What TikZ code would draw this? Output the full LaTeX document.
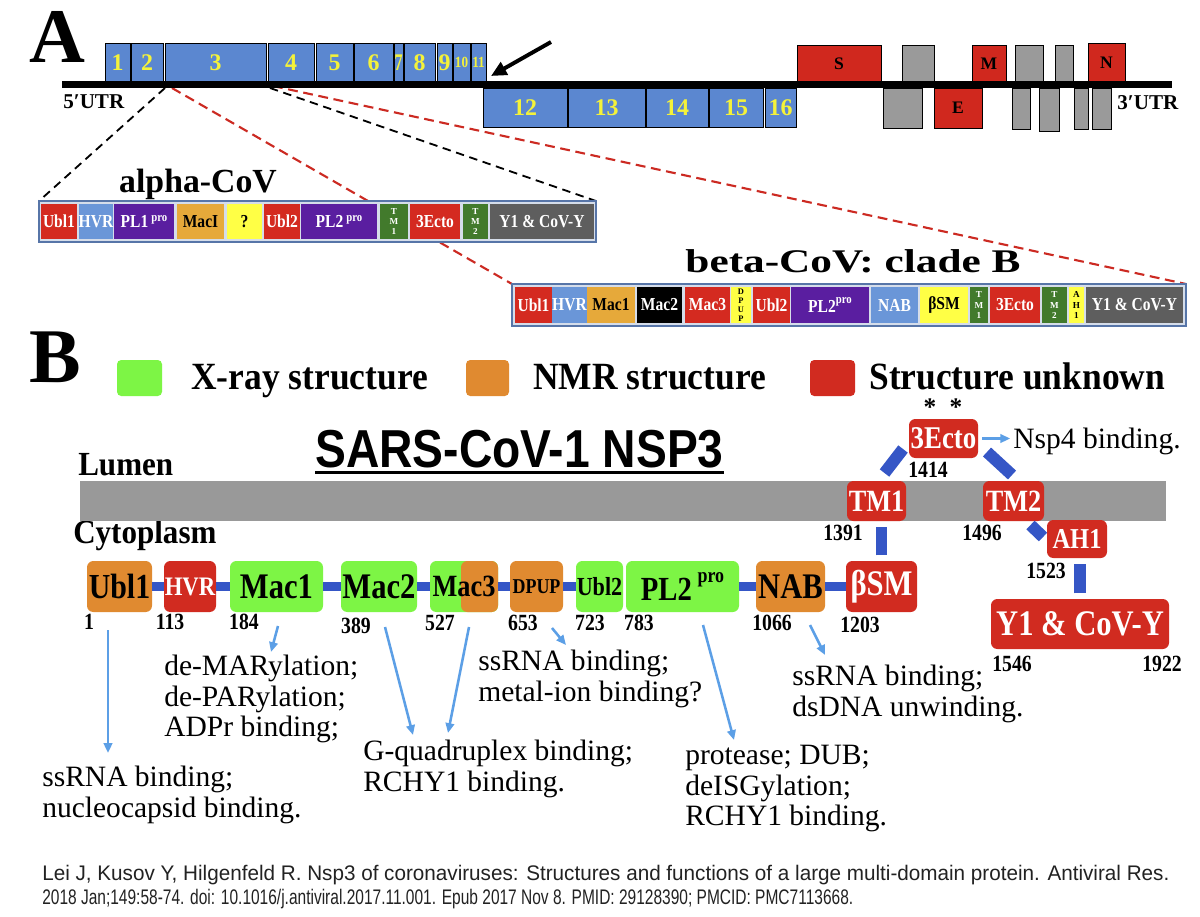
\documentclass[tikz,border=0pt]{standalone}
\usepackage{fontspec}
\setmainfont{Liberation Serif}
\newfontfamily\cnd[FakeStretch=0.85]{Liberation Serif}
\newfontfamily\cnn[FakeStretch=0.92]{Liberation Serif}
\newfontfamily\ssf{Liberation Sans}
\usetikzlibrary{arrows.meta}
\newcommand{\fsz}[1]{\fontsize{#1}{#1}\selectfont}
\newcommand{\bx}[7]{\node[#6, minimum width={(#4-#2)*0.025cm}, minimum height={(#5-#3)*0.025cm}] (#1) at ({(#2+#4)/2},{(#3+#5)/2}) {#7};}
\newcommand{\prosup}[2]{\raisebox{#2}{\fontsize{#1}{#1}\selectfont pro}}
\definecolor{nspblue}{HTML}{5B87D0}
\definecolor{nspyel}{HTML}{F4F23A}
\definecolor{orfred}{HTML}{D0281E}
\definecolor{orfgrey}{HTML}{9A9A9A}
\definecolor{cRed}{HTML}{D42A20}
\definecolor{cHvr}{HTML}{6A96D8}
\definecolor{cPur}{HTML}{5A1EA0}
\definecolor{cGold}{HTML}{E6A93A}
\definecolor{cYel}{HTML}{FFFF45}
\definecolor{cGrn}{HTML}{427A2C}
\definecolor{cDg}{HTML}{5E5E5E}
\definecolor{boxedge}{HTML}{5775A8}
\definecolor{boxfill}{HTML}{D5DDEA}
\definecolor{cLG}{HTML}{7DF545}
\definecolor{cOr}{HTML}{E08A30}
\definecolor{cRd}{HTML}{D12B20}
\definecolor{cConn}{HTML}{3556C6}
\definecolor{cArr}{HTML}{5C9FE6}
\definecolor{cBand}{HTML}{999999}
\definecolor{dRed}{HTML}{CC2A22}
\definecolor{citc}{HTML}{222222}
\pgfdeclarelayer{back}
\pgfdeclarelayer{bg}
\pgfsetlayers{back,bg,main}
\begin{document}
\begin{tikzpicture}[x=0.025cm,y=-0.025cm,
  sNsp/.style={draw=black,line width=0.6pt,fill=nspblue,text=nspyel,inner sep=0pt,outer sep=0pt,font=\bfseries\fsz{17}},
  sOrfR/.style={draw=black,line width=0.6pt,fill=orfred,text=black,inner sep=0pt,outer sep=0pt,font=\bfseries\fsz{12.5}},
  sOrfG/.style={draw=black,line width=0.6pt,fill=orfgrey,inner sep=0pt,outer sep=0pt},
  sOuter/.style={draw=boxedge,line width=1.4pt,fill=boxfill,inner sep=0pt,outer sep=0pt},
  sSeg/.style={draw=none,inner sep=0pt,outer sep=0pt,text=white,font=\cnd\bfseries\fsz{13}},
  sStk/.style={align=center,font=\bfseries\fontsize{6.5}{7.4}\selectfont},
  sStkS/.style={align=center,font=\bfseries\fontsize{6}{6.3}\selectfont},
  kDash/.style={draw=black,line width=1.3pt,dash pattern=on 6pt off 4pt},
  rDash/.style={draw=dRed,line width=1.5pt,dash pattern=on 7pt off 4pt},
  sLgsq/.style={rounded corners=3pt,draw=none,inner sep=0pt,outer sep=0pt},
  sLeg/.style={anchor=base west,inner sep=0pt,font=\cnn\bfseries\fsz{27.4}},
  sDom/.style={rounded corners=4.5pt,draw=none,inner sep=0pt,outer sep=0pt,text=black},
  sNum/.style={inner sep=0pt,font=\cnd\bfseries\fsz{16.5}},
  sConn/.style={draw=cConn,line width=6.5pt},
  sArr/.style={draw=cArr,line width=1.8pt,-{Triangle[length=7pt,width=6pt]}},
  sBody/.style={anchor=north west,align=left,inner sep=0pt,font=\fontsize{21}{21.7}\selectfont},
]
\begin{pgfonlayer}{back}
\fill[white] (0,0) rectangle (1200,916);
\end{pgfonlayer}
\useasboundingbox (0,0) rectangle (1200,916);

% ---------------- Part A ----------------
\node[anchor=base west,inner sep=0pt,font=\bfseries\fsz{55}] (lA) at (29,62) {A};

\bx{n1}{105}{43}{130}{82}{sNsp}{1}
\bx{n2}{131}{43}{163}{82}{sNsp}{2}
\bx{n3}{165}{43}{266}{82}{sNsp}{3}
\bx{n4}{268}{43}{314}{82}{sNsp}{4}
\bx{n5}{316}{43}{353}{82}{sNsp}{5}
\bx{n6}{354}{43}{393}{82}{sNsp}{6}
\bx{n7}{394}{43}{403}{82}{sNsp}{\scalebox{0.7}[1]{7}}
\bx{n8}{404}{43}{435}{82}{sNsp}{8}
\bx{n9}{437}{43}{452}{82}{sNsp}{9}
\bx{n10}{453}{43}{470}{82}{sNsp,font=\cnd\bfseries\fsz{11}}{10}
\bx{n11}{471}{43}{486}{82}{sNsp,font=\cnd\bfseries\fsz{11}}{11}
\bx{n12}{483}{88}{567}{127}{sNsp}{12}
\bx{n13}{568}{88}{645}{127}{sNsp}{13}
\bx{n14}{646}{88}{708}{127}{sNsp}{14}
\bx{n15}{709}{88}{763}{127}{sNsp}{15}
\bx{n16}{765}{88}{796}{127}{sNsp}{16}

\bx{sS}{797}{45}{881}{82}{sOrfR}{S}
\bx{g1}{902}{45}{934}{82}{sOrfG}{}
\bx{sM}{972}{45}{1006}{82}{sOrfR}{M}
\bx{g2}{1015}{45}{1043}{82}{sOrfG}{}
\bx{g3}{1055}{45}{1073}{82}{sOrfG}{}
\bx{sN}{1088}{43}{1125}{82}{sOrfR}{N}
\bx{g4}{883}{88}{922}{128}{sOrfG}{}
\bx{sE}{934}{88}{982}{128}{sOrfR}{E}
\bx{g5}{1012}{88}{1030}{129}{sOrfG}{}
\bx{g6}{1039}{88}{1059}{131}{sOrfG}{}
\bx{g7}{1074}{88}{1088}{129}{sOrfG}{}
\bx{g8}{1092}{88}{1111}{129}{sOrfG}{}

\coordinate (gL) at (62,84.5);
\coordinate (gR) at (1172,84.5);
\draw[line width=5pt] (gL) -- (gR);

\node[anchor=base west,inner sep=0pt,font=\bfseries\fsz{15}] (utr5) at (63,108) {5′UTR};
\node[anchor=base west,inner sep=0pt,font=\bfseries\fsz{15}] (utr3) at (1117,109) {3′UTR};

\coordinate (arS) at (551,42);
\draw[line width=2.8pt,-{Triangle[length=11pt,width=10pt]}] (arS) -- ([shift={(5,-6)}]n11.south east);

% alpha-CoV
\node[anchor=base,inner sep=0pt,font=\bfseries\fsz{24}] (alab) at (198,192) {alpha-CoV};
\bx{alpha}{39}{201}{596}{242}{sOuter}{}
\bx{aU1}{41}{204}{77}{239}{sSeg,fill=cRed}{Ubl1}
\bx{aHVR}{80}{204}{112}{239}{sSeg,fill=cHvr}{HVR}
\bx{aPL1}{114}{204}{174}{239}{sSeg,fill=cPur}{PL1\,\prosup{9}{0.35em}}
\bx{aMac}{177}{204}{224}{239}{sSeg,fill=cGold,text=black}{MacI}
\bx{aQ}{227}{204}{262}{239}{sSeg,fill=cYel,text=black}{?}
\bx{aU2}{264}{204}{300}{239}{sSeg,fill=cRed}{Ubl2}
\bx{aPL2}{301}{204}{377}{239}{sSeg,fill=cPur}{PL2\,\prosup{9}{0.35em}}
\bx{aTM1}{380}{204}{408}{239}{sSeg,fill=cGrn,sStk}{T\\M\\1}
\bx{aEc}{410}{204}{460}{239}{sSeg,fill=cRed}{3Ecto}
\bx{aTM2}{463}{204}{488}{239}{sSeg,fill=cGrn,sStk}{T\\M\\2}
\bx{aY}{490}{204}{594}{239}{sSeg,fill=cDg}{Y1 \& CoV-Y}

% beta-CoV
\node[anchor=base,inner sep=0pt,font=\bfseries\fsz{23.5}] (blab) at (853,272) {\scalebox{1.31}[1]{beta-CoV: clade B}};
\bx{beta}{512}{284}{1186}{326}{sOuter}{}
\bx{bU1}{515}{287}{552}{323}{sSeg,fill=cRed}{Ubl1}
\bx{bHVR}{554}{287}{585}{323}{sSeg,fill=cHvr}{HVR}
\bx{bM1}{587}{287}{635}{323}{sSeg,fill=cGold,text=black}{Mac1}
\bx{bM2}{637}{287}{682}{323}{sSeg,fill=black}{Mac2}
\bx{bM3}{685}{287}{730}{323}{sSeg,fill=cRed}{Mac3}
\bx{bDP}{731}{287}{751}{323}{sSeg,fill=cYel,text=black,sStkS}{D\\P\\U\\P}
\bx{bU2}{753}{287}{790}{323}{sSeg,fill=cRed}{Ubl2}
\bx{bPL}{791}{287}{869}{323}{sSeg,fill=cPur}{PL2\prosup{9}{0.45em}}
\bx{bNAB}{871}{287}{918}{323}{sSeg,fill=cHvr}{NAB}
\bx{bSM}{920}{287}{968}{323}{sSeg,fill=cYel,text=black}{βSM}
\bx{bTM1}{970}{287}{988}{323}{sSeg,fill=cGrn,sStk}{T\\M\\1}
\bx{bEc}{990}{287}{1040}{323}{sSeg,fill=cRed}{3Ecto}
\bx{bTM2}{1042}{287}{1067}{323}{sSeg,fill=cGrn,sStk}{T\\M\\2}
\bx{bAH}{1069}{287}{1084}{323}{sSeg,fill=cYel,text=black,sStk}{A\\H\\1}
\bx{bY}{1086}{287}{1183}{323}{sSeg,fill=cDg}{Y1 \& CoV-Y}

\coordinate (dK1) at (165,88);
\coordinate (dR1) at (172,88);
\coordinate (dK2) at (270,88);
\coordinate (dR2) at (273,86);
\begin{pgfonlayer}{bg}
\draw[kDash] (dK1) -- (alpha.north west);
\draw[rDash] (dR1) -- (beta.north west);
\draw[kDash] (dK2) -- (alpha.north east);
\draw[rDash] (dR2) -- (beta.north east);
\end{pgfonlayer}

% ---------------- Part B ----------------
\node[anchor=base west,inner sep=0pt,font=\bfseries\fsz{55}] (lB) at (29,382) {B};
\bx{lgG}{117}{360}{162}{396}{sLgsq,fill=cLG}{}
\node[sLeg] (lgGt) at (191,389) {X-ray structure};
\bx{lgO}{466}{360}{509}{396}{sLgsq,fill=cOr}{}
\node[sLeg] (lgOt) at (533,389) {NMR structure};
\bx{lgR}{810}{360}{855}{396}{sLgsq,fill=cRd}{}
\node[sLeg] (lgRt) at (869,389) {Structure unknown};

\node[anchor=base west,inner sep=0pt,font=\ssf\bfseries\fsz{38}] (title) at (315,467) {\scalebox{0.865}[1]{SARS-CoV-1 NSP3}};
\draw[line width=2.2pt] ([yshift=-3.6pt]title.base west) -- ([yshift=-3.6pt]title.base east);

\node[anchor=base west,inner sep=0pt,font=\cnn\bfseries\fsz{24}] (lum) at (78,475) {Lumen};
\node[anchor=base west,inner sep=0pt,font=\cnn\bfseries\fsz{24}] (cyt) at (73,543) {Cytoplasm};
\bx{band}{80}{481}{1166}{521}{draw=none,fill=cBand,inner sep=0pt,outer sep=0pt}{}

% domains
\bx{ubl1}{87}{561}{152}{612}{sDom,fill=cOr,font=\cnd\bfseries\fsz{25}}{Ubl1}
\bx{hvr}{164}{561}{216}{612}{sDom,fill=cRd,text=white,font=\cnd\bfseries\fsz{19}}{HVR}
\bx{mac1}{230}{561}{323}{612}{sDom,fill=cLG,font=\cnd\bfseries\fsz{25.6}}{Mac1}
\bx{mac2}{341}{561}{417}{612}{sDom,fill=cLG,font=\cnd\bfseries\fsz{25.6}}{Mac2}
\bx{mac3}{430}{561}{498}{612}{sDom,fill=cLG}{}
\bx{mac3o}{461}{561}{498}{612}{sDom,fill=cOr}{}
\node[inner sep=0pt,font=\cnd\bfseries\fsz{22}] (mac3t) at (mac3.center) {Mac3};
\bx{dpup}{510}{561}{563}{612}{sDom,fill=cOr,font=\cnd\bfseries\fsz{15}}{DPUP}
\bx{ubl2}{576}{561}{623}{612}{sDom,fill=cLG,font=\cnd\bfseries\fsz{18.5}}{Ubl2}
\bx{pl2}{626}{561}{739}{612}{sDom,fill=cLG,font=\cnd\bfseries\fsz{24}}{PL2\,\prosup{15}{0.55em}}
\bx{nab}{756}{561}{825}{612}{sDom,fill=cOr,font=\cnd\bfseries\fsz{25.6}}{NAB}
\bx{bsm}{846}{561}{917}{612}{sDom,fill=cRd,text=white,font=\cnd\bfseries\fsz{25.6}}{βSM}
\bx{tm1}{847}{481}{906}{521}{sDom,fill=cRd,text=white,font=\cnd\bfseries\fsz{22}}{TM1}
\bx{tm2}{983}{481}{1044}{521}{sDom,fill=cRd,text=white,font=\cnd\bfseries\fsz{22}}{TM2}
\bx{ecto}{909}{419}{978}{458}{sDom,fill=cRd,text=white,font=\cnd\bfseries\fsz{22.5}}{3Ecto}
\bx{ah1}{1047}{520}{1107}{558}{sDom,fill=cRd,text=white,font=\cnd\bfseries\fsz{20.5}}{AH1}
\bx{y1}{991}{599}{1169}{649}{sDom,fill=cRd,text=white,font=\cnd\bfseries\fsz{25.6}}{Y1 \& CoV-Y}

% connectors
\draw[sConn] (ubl1.east) -- (hvr.west);
\draw[sConn] (hvr.east) -- (mac1.west);
\draw[sConn] (mac1.east) -- (mac2.west);
\draw[sConn] (mac2.east) -- (mac3.west);
\draw[sConn] (mac3.east) -- (dpup.west);
\draw[sConn] (dpup.east) -- (ubl2.west);
\draw[sConn] (pl2.east) -- (nab.west);
\draw[sConn] (nab.east) -- (bsm.west);
\draw[sConn,line width=7.5pt,shorten <=4pt,shorten >=4pt] (bsm.north) -- (bsm.north |- tm1.south);
\draw[sConn,line width=8.5pt] ([shift={(8,-8)}]tm1.north) -- ([shift={(-6,-9)}]ecto.south west);
\draw[sConn,line width=8.5pt] ([shift={(9,-6)}]ecto.south east) -- ([shift={(-1.5,-6)}]tm2.north);
\draw[sConn,line width=8.5pt] ([shift={(17,4)}]tm2.south) -- ([shift={(-4,-2)}]ah1.west);
\draw[sConn,line width=8.5pt,shorten <=4pt,shorten >=4pt] (y1.north) -- (y1.north |- ah1.south);

% numbers
\node[sNum] (k1) at (89,622) {1};
\node[sNum] (k113) at (170,622) {113};
\node[sNum] (k184) at (244,622) {184};
\node[sNum] (k389) at (356,626) {389};
\node[sNum] (k527) at (440,623) {527};
\node[sNum] (k653) at (523,623) {653};
\node[sNum] (k723) at (590,623) {723};
\node[sNum] (k783) at (639,623) {783};
\node[sNum] (k1066) at (772,623) {1066};
\node[sNum] (k1203) at (860,625) {1203};
\node[sNum] (k1391) at (843,533) {1391};
\node[sNum] (k1414) at (928,470) {1414};
\node[sNum] (k1496) at (982,533) {1496};
\node[sNum] (k1523) at (1046,571) {1523};
\node[sNum] (k1546) at (1012,664) {1546};
\node[sNum] (k1922) at (1162,664) {1922};
\node[anchor=base,inner sep=0pt,font=\bfseries\fsz{18}] (ast1) at (930,415) {*};
\node[anchor=base,inner sep=0pt,font=\bfseries\fsz{18}] (ast2) at (956,415) {*};

% function texts
\node[anchor=base west,inner sep=0pt,font=\fsz{21}] (nsp4) at (1013,448) {Nsp4 binding.};
\node[sBody] (tx1) at (42,766) {ssRNA binding;\\nucleocapsid binding.};
\node[sBody] (tx2) at (164,655) {de-MARylation;\\de-PARylation;\\ADPr binding;};
\node[sBody] (tx3) at (363,740) {G-quadruplex binding;\\RCHY1 binding.};
\node[sBody] (tx4) at (478,650) {ssRNA binding;\\metal-ion binding?};
\node[sBody] (tx5) at (685,745) {protease; DUB;\\deISGylation;\\RCHY1 binding.};
\node[sBody] (tx6) at (792,665) {ssRNA binding;\\dsDNA unwinding.};

% blue arrows
\coordinate (t1) at (108,753);
\coordinate (t2) at (271,652);
\coordinate (t3) at (413,735);
\coordinate (t4) at (448,733);
\coordinate (t5) at (566,645);
\coordinate (t6) at (734,740);
\coordinate (t7) at (825,655);
\draw[sArr] ([shift={(-11.5,18)}]ubl1.south) -- (t1);
\draw[sArr] ([shift={(1.5,14)}]mac1.south) -- (t2);
\draw[sArr] ([shift={(6,15)}]mac2.south) -- (t3);
\draw[sArr] ([shift={(5,15)}]mac3.south) -- (t4);
\draw[sArr] ([shift={(15.5,16)}]dpup.south) -- (t5);
\draw[sArr] ([shift={(20.5,13)}]pl2.south) -- (t6);
\draw[sArr] ([shift={(19.5,13)}]nab.south) -- (t7);
\draw[sArr,shorten <=3pt,shorten >=2pt] (ecto.east) -- (ecto.east -| nsp4.west);

% citation
\node[anchor=base west,inner sep=0pt,text=citc,font=\ssf\fsz{15}] (cit1) at (42,880) {\scalebox{0.98}[1]{Lei J, Kusov Y, Hilgenfeld R. Nsp3 of coronaviruses: Structures and functions of a large multi-domain protein. Antiviral Res.}};
\node[anchor=base west,inner sep=0pt,text=citc,font=\ssf\fsz{15}] (cit2) at (42,904) {\scalebox{0.735}[1]{2018 Jan;149:58-74. doi: 10.1016/j.antiviral.2017.11.001. Epub 2017 Nov 8. PMID: 29128390; PMCID: PMC7113668.}};
\end{tikzpicture}
\end{document}
